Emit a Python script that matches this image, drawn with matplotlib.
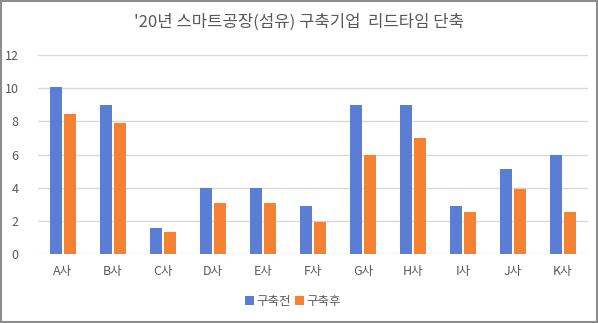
import matplotlib
matplotlib.use("Agg")
import matplotlib.pyplot as plt
import numpy as np
from matplotlib.patches import Rectangle

plt.rcParams['font.family'] = ['Noto Sans CJK KR', 'DejaVu Sans']

companies = ["A사", "B사", "C사", "D사", "E사", "F사", "G사", "H사", "I사", "J사", "K사"]
before = [10.05, 9.0, 1.55, 4.0, 4.0, 2.9, 9.0, 9.0, 2.9, 5.1, 6.0]
after = [8.45, 7.9, 1.35, 3.05, 3.05, 1.95, 6.0, 7.0, 2.55, 3.9, 2.55]
series_names = ["구축전", "구축후"]
title = "'20년 스마트공장(섬유) 구축기업  리드타임 단축"

blue = "#5B7DD3"
orange = "#F58233"
text_col = "#595959"

fig = plt.figure(figsize=(5.98, 3.23), dpi=100)
ax = fig.add_axes([0.0635, 0.2136, 0.9195, 0.6161])

x = np.arange(len(companies))
w = 0.24
gap = 0.04
ax.bar(x - (w + gap) / 2, before, w, color=blue, label=series_names[0], zorder=3)
ax.bar(x + (w + gap) / 2, after, w, color=orange, label=series_names[1], zorder=3)

ax.set_xlim(-0.5, len(companies) - 0.5)
ax.set_ylim(0, 12)
ax.set_yticks(range(0, 13, 2))
ax.set_xticks(x)
ax.set_xticklabels(companies)
ax.yaxis.grid(True, color="#D9D9D9", linewidth=1, zorder=0)
for s in ax.spines.values():
    s.set_visible(False)
ax.tick_params(axis="both", length=0, colors=text_col, labelsize=9)
ax.tick_params(axis="y", pad=14)
ax.tick_params(axis="x", pad=8)

fig.text(0.5, 0.93, title, ha="center", va="center", fontsize=12, color=text_col)

fig.legend(loc="center", bbox_to_anchor=(0.49, 0.068), ncol=2, frameon=False,
           fontsize=9, handlelength=0.7, handleheight=0.7, handletextpad=0.2,
           columnspacing=0.3, labelcolor=text_col)

fig.patches.append(Rectangle((0.002, 0.003), 0.996, 0.994, transform=fig.transFigure,
                             fill=False, edgecolor="#8C8C8C", linewidth=1.5))

fig.savefig("out.png", dpi=100)
